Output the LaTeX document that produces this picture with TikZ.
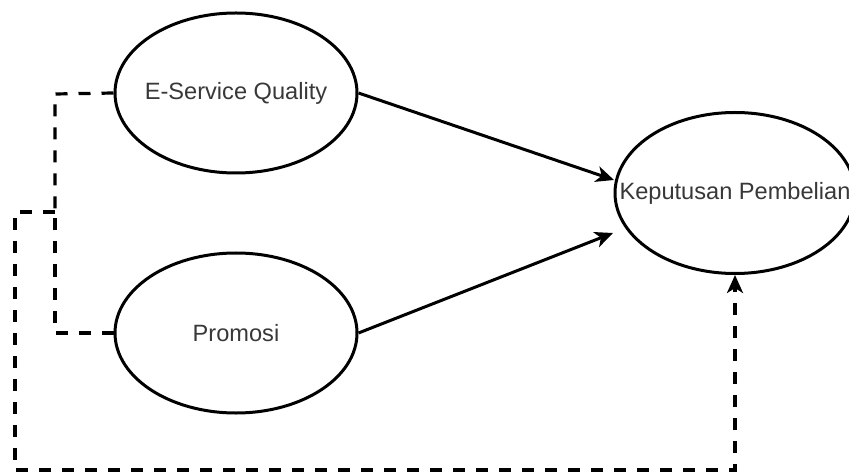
\documentclass[tikz,border=0pt]{standalone}
\usepackage{fontspec}
\setmainfont{Liberation Sans}
\usetikzlibrary{arrows.meta,shapes.geometric}
\begin{document}
\begin{tikzpicture}[x=0.5pt,y=-0.5pt,
  construct/.style={ellipse,draw=black,line width=1.5pt,inner sep=0pt,
    text=black!78,font=\fontsize{11.8}{14}\selectfont},
  tiphead/.style={-{Stealth[length=9pt,width=8pt,inset=2.5pt]}},
  solidarrow/.style={line width=1.5pt,tiphead},
  dashline/.style={line width=1.6pt,dash pattern=on 6pt off 5.5pt}]
\useasboundingbox (0,0) rectangle (849,475);
\node[construct,minimum width=121pt,minimum height=80pt] (es) at (236,93) {\makebox[0pt]{E-Service Quality}};
\node[construct,minimum width=121pt,minimum height=80pt] (pr) at (236,333) {\makebox[0pt]{Promosi}};
\node[construct,minimum width=120pt,minimum height=80.5pt] (kp) at (735,193) {\makebox[0pt]{Keputusan Pembelian}};
\coordinate (kpa) at (614,180);
\coordinate (kpb) at (613,233);
\coordinate (ja) at (55,94);
\coordinate (jb) at (55,212);
\coordinate (jc) at (55,333);
\coordinate (jd) at (15,212);
\coordinate (je) at (15,470);
\coordinate (jf) at (735,470);
\draw[solidarrow] (es.east) -- (kpa);
\draw[solidarrow] (pr.east) -- (kpb);
\draw[dashline] (es.west) -- (ja) -- (jb);
\draw[dashline] (pr.west) -- (jc) -- (jb);
\draw[dashline,tiphead] (jb) -- (jd) -- (je) -- (jf) -- (kp.south);
\end{tikzpicture}
\end{document}
